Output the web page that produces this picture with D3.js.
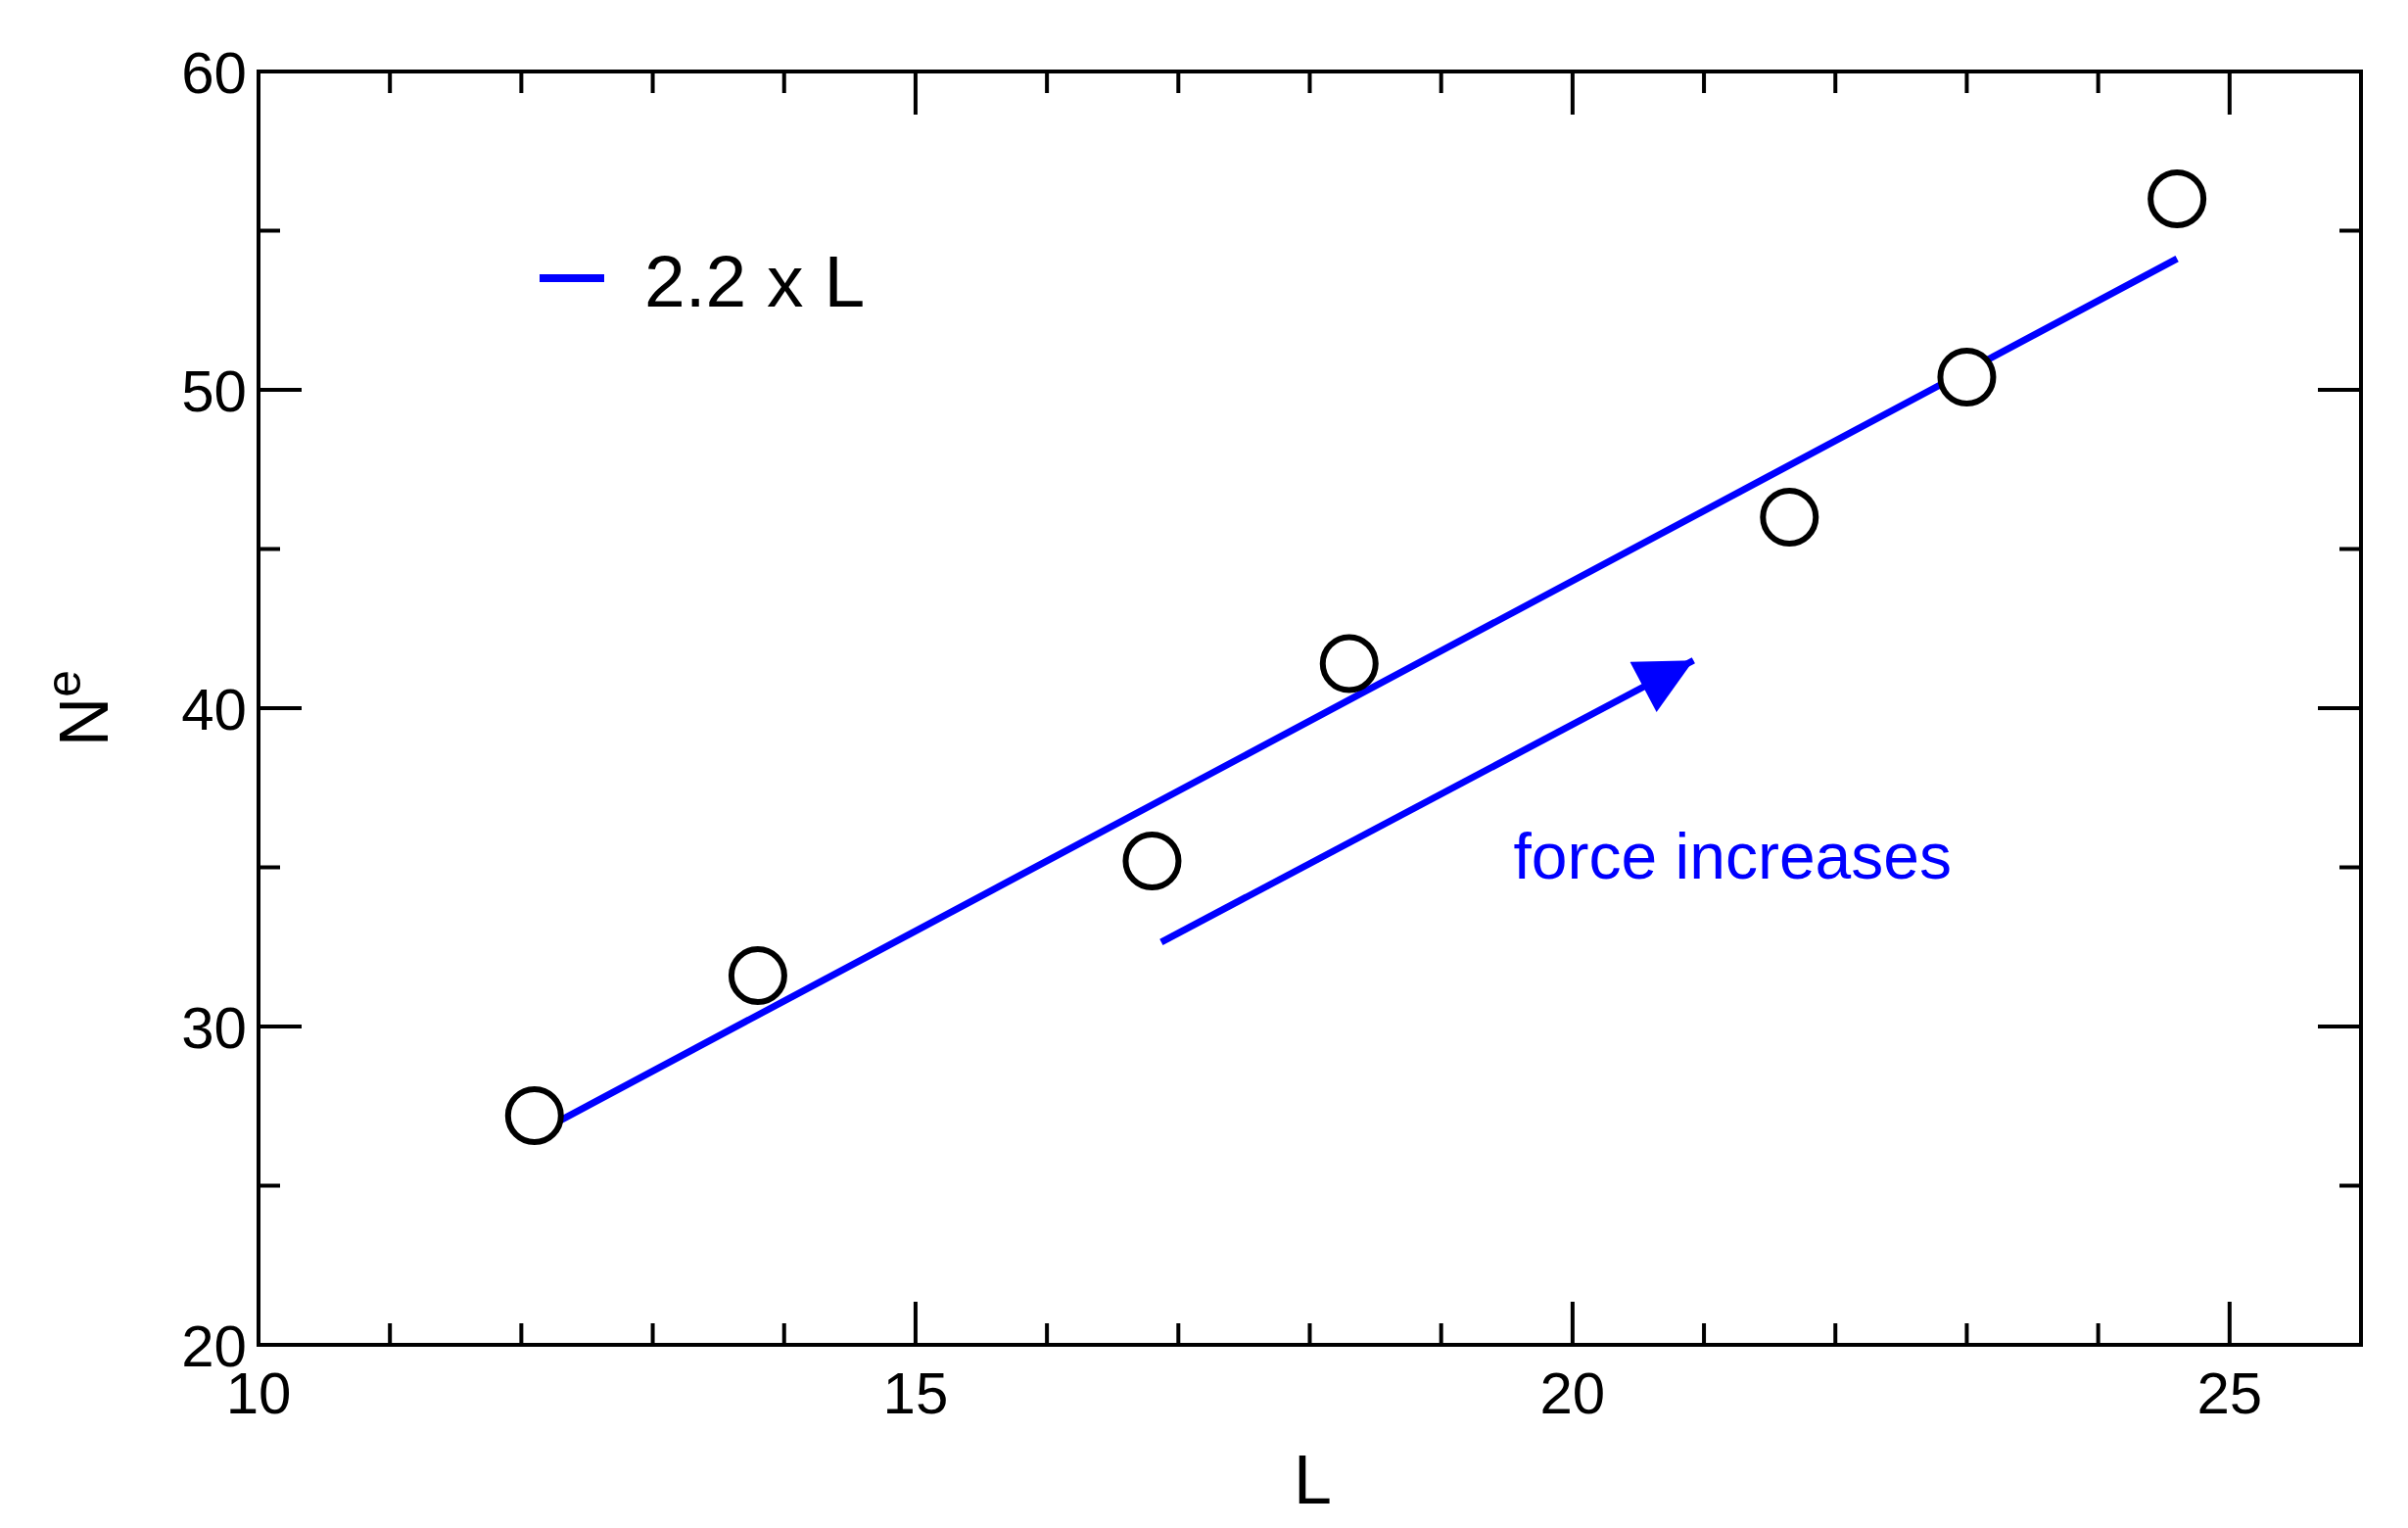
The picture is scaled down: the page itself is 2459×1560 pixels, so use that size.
<!DOCTYPE html><html><head><meta charset="utf-8">
<script src="https://cdn.jsdelivr.net/npm/d3@7"></script>
<style>body{margin:0;background:#fff}svg{display:block}text{font-family:"Liberation Sans",Arial,sans-serif}</style></head><body>
<svg id="c" width="2459" height="1560"></svg>
<script>
const xs=[12.1,13.8,16.8,18.3,21.65,23.0,24.6];
const ys=[27.2,31.6,35.2,41.4,46.0,50.4,56.0];
const fitX=[12.3,24.6];
const slope=2.2;
const arrowPts=[[16.87,32.65],[20.92,41.5]];
const xTicks=[10,15,20,25], yTicks=[20,30,40,50,60];
const svg=d3.select("#c");
const L=264,R=2411,T=73,B=1373;
const x=d3.scaleLinear().domain([10,26]).range([L,R]);
const y=d3.scaleLinear().domain([20,60]).range([B,T]);
const g=svg.append("g");
const sw=4;
// minor/major ticks
d3.range(10,27,1).forEach(v=>{const len=v%5===0?44:22;
 g.append("line").attr("x1",x(v)).attr("x2",x(v)).attr("y1",B).attr("y2",B-len).attr("stroke","#000").attr("stroke-width",sw);
 g.append("line").attr("x1",x(v)).attr("x2",x(v)).attr("y1",T).attr("y2",T+len).attr("stroke","#000").attr("stroke-width",sw);});
d3.range(20,61,5).forEach(v=>{const len=v%10===0?44:22;
 g.append("line").attr("y1",y(v)).attr("y2",y(v)).attr("x1",L).attr("x2",L+len).attr("stroke","#000").attr("stroke-width",sw);
 g.append("line").attr("y1",y(v)).attr("y2",y(v)).attr("x1",R).attr("x2",R-len).attr("stroke","#000").attr("stroke-width",sw);});
g.append("rect").attr("x",L).attr("y",T).attr("width",R-L).attr("height",B-T).attr("fill","none").attr("stroke","#000").attr("stroke-width",sw);
xTicks.forEach(v=>g.append("text").attr("x",x(v)).attr("y",B+70).attr("text-anchor","middle").attr("font-size",60).text(v));
yTicks.forEach(v=>g.append("text").attr("x",L-12).attr("y",y(v)+22).attr("text-anchor","end").attr("font-size",60).text(v));
g.append("text").attr("x",(L+R)/2+3).attr("y",1535).attr("text-anchor","middle").attr("font-size",70).text("L");
const yl=g.append("text").attr("transform",`translate(110,${(T+B)/2}) rotate(-90)`).attr("text-anchor","middle").attr("font-size",70);
yl.append("tspan").text("N");yl.append("tspan").attr("font-size",50).attr("dy",-28).text("e");
// fit line
g.append("line").attr("x1",x(fitX[0])).attr("y1",y(slope*fitX[0])).attr("x2",x(fitX[1])).attr("y2",y(slope*fitX[1])).attr("stroke","#0000ff").attr("stroke-width",7);
// points
g.selectAll("circle").data(xs).join("circle").attr("cx",d=>x(d)).attr("cy",(d,i)=>y(ys[i])).attr("r",27).attr("fill","#fff").attr("stroke","#000").attr("stroke-width",6);
// legend
g.append("line").attr("x1",551).attr("x2",617).attr("y1",284).attr("y2",284).attr("stroke","#0000ff").attr("stroke-width",8);
g.append("text").attr("x",658).attr("y",313).attr("font-size",75).text("2.2 x L");
// arrow
svg.append("defs").append("marker").attr("id","ah").attr("viewBox","0 0 10 10").attr("refX",10).attr("refY",5).attr("markerWidth",10).attr("markerHeight",8).attr("orient","auto").attr("markerUnits","userSpaceOnUse")
 .attr("markerWidth",70).attr("markerHeight",58).append("path").attr("d","M0,0L10,5L0,10z").attr("fill","#0000ff");
g.append("line").attr("x1",x(arrowPts[0][0])).attr("y1",y(arrowPts[0][1])).attr("x2",x(arrowPts[1][0])).attr("y2",y(arrowPts[1][1])).attr("stroke","#0000ff").attr("stroke-width",7).attr("marker-end","url(#ah)");
g.append("text").attr("x",x(19.55)).attr("y",y(34.65)).attr("font-size",66).attr("fill","#0000ff").text("force increases");
</script></body></html>
